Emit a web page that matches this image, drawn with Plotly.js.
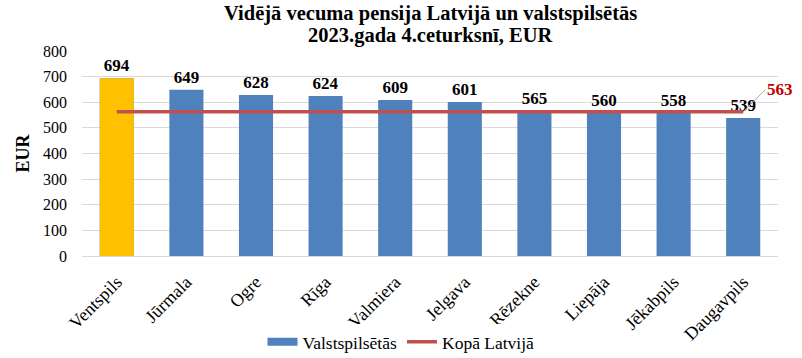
<!DOCTYPE html>
<html>
<head>
<meta charset="utf-8">
<script src="https://cdn.plot.ly/plotly-3.0.1.min.js"></script>
<style>html,body{margin:0;padding:0;background:#fff;}#chart{width:802px;height:358px;}</style>
</head>
<body>
<div id="chart"></div>
<script>
const cities = ["Ventspils","Jūrmala","Ogre","Rīga","Valmiera","Jelgava","Rēzekne","Liepāja","Jēkabpils","Daugavpils"];
const pensions = [694,649,628,624,609,601,565,560,558,539];
const latviaTotal = 563;
const highlightCity = "Ventspils";
const yTicks = [0,100,200,300,400,500,600,700,800];
const titleLines = ["Vidējā vecuma pensija Latvijā un valstspilsētās", "2023.gada 4.ceturksnī, EUR"];

const serif = "Liberation Serif, Times New Roman, serif";
const blue = "#4F81BD", orange = "#FFC000", red = "#C0504D";

const hiIdx = cities.indexOf(highlightCity);

const traces = [
  {
    type: "bar", name: "Valstspilsētās",
    x: cities, y: pensions,
    marker: {color: blue},
    text: pensions.map(v => "<b>" + v + "</b>"),
    textposition: "outside", textfont: {family: serif, size: 17, color: "#000"},
    constraintext: "none", cliponaxis: false,
    hoverinfo: "x+y"
  },
  {
    type: "bar", name: highlightCity, showlegend: false,
    x: [cities[hiIdx]], y: [pensions[hiIdx]],
    marker: {color: orange}, hoverinfo: "x+y"
  },
  {
    type: "scatter", mode: "lines", name: "Kopā Latvijā",
    x: cities, y: cities.map(() => latviaTotal),
    line: {color: red, width: 3.5}
  }
];

const layout = {
  width: 802, height: 358,
  margin: {l: 82, r: 24, t: 51, b: 102, autoexpand: false},
  paper_bgcolor: "#fff", plot_bgcolor: "#fff",
  barmode: "overlay", bargap: 0.51,
  font: {family: serif, size: 16, color: "#000"},
  xaxis: {
    type: "category", range: [-0.5, cities.length - 0.5], autorange: false,
    tickangle: -45, tickfont: {family: serif, size: 18},
    showgrid: false, showline: false, ticks: "", automargin: false,
    ticklabelstandoff: 11
  },
  yaxis: {
    range: [0, 800], autorange: false, tickvals: yTicks, ticktext: yTicks.map(String),
    tickfont: {family: serif, size: 16},
    gridcolor: "#D9D9D9", gridwidth: 1, zeroline: true, zerolinecolor: "#D9D9D9",
    showline: false, ticks: "", automargin: false, ticklabelstandoff: 14,
    title: {text: "<b>EUR</b>", font: {family: serif, size: 18}, standoff: 8}
  },
  legend: {
    orientation: "h", x: 0.5, xanchor: "center", xref: "container",
    y: 0.045, yanchor: "middle", yref: "container",
    font: {family: serif, size: 17.5}, traceorder: "normal"
  },
  annotations: [
    {
      x: 0.5, xref: "paper", y: 1.1805, yref: "paper", xanchor: "center", yanchor: "middle",
      text: "<b>" + titleLines[0] + "</b>", showarrow: false,
      font: {family: serif, size: 20.5, color: "#000"}
    },
    {
      x: 0.5, xref: "paper", y: 1.0732, yref: "paper", xanchor: "center", yanchor: "middle",
      text: "<b>" + titleLines[1] + "</b>", showarrow: false,
      font: {family: serif, size: 20.5, color: "#000"}
    },
    {
      x: cities[cities.length - 1], y: latviaTotal, xref: "x", yref: "y",
      text: "<b>" + latviaTotal + "</b>",
      font: {family: serif, size: 17, color: "#C00000"},
      showarrow: true, arrowhead: 0, arrowwidth: 1, arrowcolor: "#A6A6A6",
      ax: 22, ay: -22, xanchor: "left", standoff: 0
    }
  ],
  showlegend: true
};

Plotly.newPlot("chart", traces, layout, {displayModeBar: false, staticPlot: true}).then(gd => {
  // widen the bar legend swatch to a flat rectangle like the reference
  gd.querySelectorAll(".legend .traces").forEach(t => {
    const p = t.querySelector(".legendpoints path");
    if (p && t.textContent.indexOf("Valstspils") >= 0) p.setAttribute("d", "M15,4H-15V-4H15Z");
  });
});
</script>
</body>
</html>
